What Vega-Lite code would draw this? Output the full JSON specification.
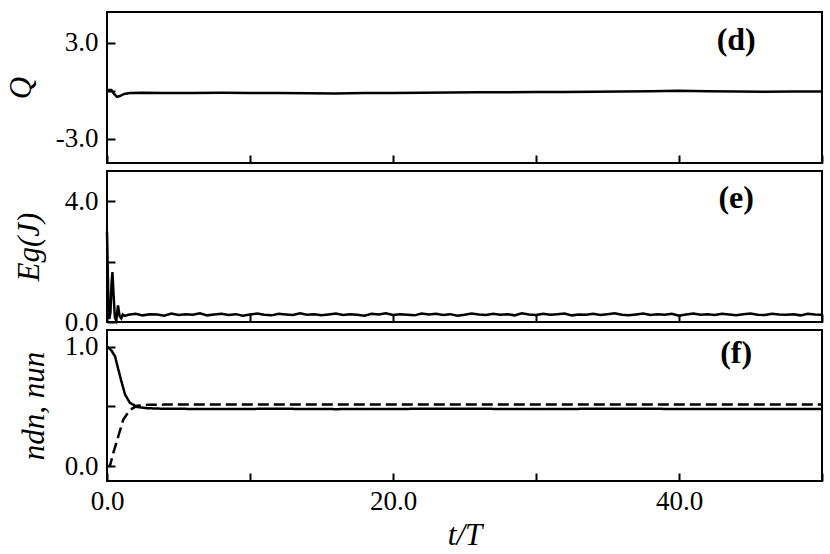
{
  "$schema": "https://vega.github.io/schema/vega-lite/v6.json",
  "padding": {"left": 4, "top": 11, "right": 8, "bottom": 0},
  "background": "white",
  "spacing": 8,
  "bounds": "flush",
  "config": {
    "view": {"stroke": "black", "strokeWidth": 2},
    "axis": {
      "domain": false, "grid": false, "ticks": true, "tickSize": -8, "tickWidth": 2, "tickColor": "black",
      "labelFont": "Liberation Serif", "labelFontSize": 27, "labelColor": "black", "labelPadding": 17, "labelFlush": false,
      "titleFont": "Liberation Serif", "titleFontStyle": "italic", "titleFontWeight": "normal", "titleFontSize": 31, "titleColor": "black"
    }
  },
  "datasets": {
    "Q": [
      {"t": 0, "Q": 0.05}, {"t": 0.3, "Q": 0.05}, {"t": 0.5, "Q": -0.2}, {"t": 0.7, "Q": -0.38}, {"t": 0.9, "Q": -0.33},
      {"t": 1.2, "Q": -0.2}, {"t": 1.6, "Q": -0.15}, {"t": 2.5, "Q": -0.13}, {"t": 4, "Q": -0.15}, {"t": 6, "Q": -0.14},
      {"t": 8, "Q": -0.13}, {"t": 10, "Q": -0.15}, {"t": 12, "Q": -0.14}, {"t": 14, "Q": -0.16}, {"t": 16, "Q": -0.17},
      {"t": 18, "Q": -0.15}, {"t": 20, "Q": -0.14}, {"t": 22, "Q": -0.13}, {"t": 24, "Q": -0.11}, {"t": 26, "Q": -0.1},
      {"t": 28, "Q": -0.09}, {"t": 30, "Q": -0.08}, {"t": 32, "Q": -0.08}, {"t": 34, "Q": -0.07}, {"t": 36, "Q": -0.05},
      {"t": 38, "Q": -0.03}, {"t": 40, "Q": 0.0}, {"t": 42, "Q": -0.03}, {"t": 44, "Q": -0.05}, {"t": 46, "Q": -0.06},
      {"t": 48, "Q": -0.05}, {"t": 50, "Q": -0.05}
    ],
    "Eg": [
      {"t": 0, "E": 3.0}, {"t": 0.04, "E": 2.0}, {"t": 0.1, "E": 0.6}, {"t": 0.16, "E": 0.1}, {"t": 0.24, "E": 0.3},
      {"t": 0.32, "E": 1.3}, {"t": 0.38, "E": 1.65}, {"t": 0.46, "E": 0.9}, {"t": 0.55, "E": 0.15}, {"t": 0.65, "E": 0.05},
      {"t": 0.77, "E": 0.55}, {"t": 0.88, "E": 0.2}, {"t": 1.0, "E": 0.12}, {"t": 1.1, "E": 0.25}, {"t": 1.25, "E": 0.2},
      {"t": 1.5, "E": 0.24}, {"t": 2, "E": 0.27}, {"t": 2.5, "E": 0.22}, {"t": 3, "E": 0.26}, {"t": 3.5, "E": 0.25},
      {"t": 4, "E": 0.21}, {"t": 4.5, "E": 0.28}, {"t": 5, "E": 0.23}, {"t": 5.5, "E": 0.26}, {"t": 6, "E": 0.24},
      {"t": 6.5, "E": 0.29}, {"t": 7, "E": 0.22}, {"t": 7.5, "E": 0.25}, {"t": 8, "E": 0.27}, {"t": 8.5, "E": 0.23},
      {"t": 9, "E": 0.26}, {"t": 9.5, "E": 0.21}, {"t": 10, "E": 0.25}, {"t": 10.5, "E": 0.28}, {"t": 11, "E": 0.24},
      {"t": 11.5, "E": 0.22}, {"t": 12, "E": 0.27}, {"t": 12.5, "E": 0.25}, {"t": 13, "E": 0.23}, {"t": 13.5, "E": 0.29},
      {"t": 14, "E": 0.24}, {"t": 14.5, "E": 0.26}, {"t": 15, "E": 0.22}, {"t": 15.5, "E": 0.25}, {"t": 16, "E": 0.28},
      {"t": 16.5, "E": 0.23}, {"t": 17, "E": 0.26}, {"t": 17.5, "E": 0.24}, {"t": 18, "E": 0.21}, {"t": 18.5, "E": 0.27},
      {"t": 19, "E": 0.25}, {"t": 19.5, "E": 0.29}, {"t": 20, "E": 0.23}, {"t": 20.5, "E": 0.26}, {"t": 21, "E": 0.24},
      {"t": 21.5, "E": 0.22}, {"t": 22, "E": 0.28}, {"t": 22.5, "E": 0.25}, {"t": 23, "E": 0.27}, {"t": 23.5, "E": 0.23},
      {"t": 24, "E": 0.26}, {"t": 24.5, "E": 0.21}, {"t": 25, "E": 0.24}, {"t": 25.5, "E": 0.28}, {"t": 26, "E": 0.25},
      {"t": 26.5, "E": 0.23}, {"t": 27, "E": 0.27}, {"t": 27.5, "E": 0.24}, {"t": 28, "E": 0.26}, {"t": 28.5, "E": 0.22},
      {"t": 29, "E": 0.29}, {"t": 29.5, "E": 0.25}, {"t": 30, "E": 0.23}, {"t": 30.5, "E": 0.27}, {"t": 31, "E": 0.24},
      {"t": 31.5, "E": 0.26}, {"t": 32, "E": 0.28}, {"t": 32.5, "E": 0.22}, {"t": 33, "E": 0.25}, {"t": 33.5, "E": 0.24},
      {"t": 34, "E": 0.27}, {"t": 34.5, "E": 0.23}, {"t": 35, "E": 0.26}, {"t": 35.5, "E": 0.29}, {"t": 36, "E": 0.24},
      {"t": 36.5, "E": 0.22}, {"t": 37, "E": 0.25}, {"t": 37.5, "E": 0.28}, {"t": 38, "E": 0.23}, {"t": 38.5, "E": 0.26},
      {"t": 39, "E": 0.24}, {"t": 39.5, "E": 0.27}, {"t": 40, "E": 0.21}, {"t": 40.5, "E": 0.25}, {"t": 41, "E": 0.28},
      {"t": 41.5, "E": 0.24}, {"t": 42, "E": 0.26}, {"t": 42.5, "E": 0.23}, {"t": 43, "E": 0.27}, {"t": 43.5, "E": 0.25},
      {"t": 44, "E": 0.22}, {"t": 44.5, "E": 0.26}, {"t": 45, "E": 0.28}, {"t": 45.5, "E": 0.24}, {"t": 46, "E": 0.23},
      {"t": 46.5, "E": 0.27}, {"t": 47, "E": 0.25}, {"t": 47.5, "E": 0.24}, {"t": 48, "E": 0.26}, {"t": 48.5, "E": 0.22},
      {"t": 49, "E": 0.27}, {"t": 49.5, "E": 0.25}, {"t": 50, "E": 0.24}
    ],
    "N": [
      {"t": 0, "n": 1.0, "s": "dn"}, {"t": 0.3, "n": 0.97, "s": "dn"}, {"t": 0.56, "n": 0.92, "s": "dn"}, {"t": 0.79, "n": 0.81, "s": "dn"},
      {"t": 1.03, "n": 0.7, "s": "dn"}, {"t": 1.26, "n": 0.6, "s": "dn"}, {"t": 1.6, "n": 0.53, "s": "dn"}, {"t": 2.1, "n": 0.495, "s": "dn"},
      {"t": 2.8, "n": 0.485, "s": "dn"}, {"t": 4, "n": 0.48, "s": "dn"}, {"t": 8, "n": 0.478, "s": "dn"}, {"t": 12, "n": 0.48, "s": "dn"},
      {"t": 16, "n": 0.477, "s": "dn"}, {"t": 20, "n": 0.479, "s": "dn"}, {"t": 25, "n": 0.48, "s": "dn"}, {"t": 30, "n": 0.478, "s": "dn"},
      {"t": 35, "n": 0.48, "s": "dn"}, {"t": 40, "n": 0.479, "s": "dn"}, {"t": 45, "n": 0.478, "s": "dn"}, {"t": 50, "n": 0.478, "s": "dn"},
      {"t": 0, "n": 0.0, "s": "un"}, {"t": 0.2, "n": 0.0, "s": "un"}, {"t": 0.44, "n": 0.11, "s": "un"}, {"t": 0.79, "n": 0.25, "s": "un"},
      {"t": 1.14, "n": 0.39, "s": "un"}, {"t": 1.6, "n": 0.47, "s": "un"}, {"t": 2.1, "n": 0.505, "s": "un"}, {"t": 2.8, "n": 0.513, "s": "un"},
      {"t": 4, "n": 0.515, "s": "un"}, {"t": 10, "n": 0.515, "s": "un"}, {"t": 20, "n": 0.516, "s": "un"}, {"t": 30, "n": 0.515, "s": "un"},
      {"t": 40, "n": 0.515, "s": "un"}, {"t": 50, "n": 0.515, "s": "un"}
    ]
  },
  "vconcat": [
    {
      "width": 715, "height": 151,
      "layer": [
        {
          "data": {"name": "Q"},
          "mark": {"type": "line", "color": "black", "strokeWidth": 2.5},
          "encoding": {
            "x": {"field": "t", "type": "quantitative", "scale": {"domain": [0, 50], "nice": false, "zero": false},
                  "axis": {"values": [0, 10, 20, 30, 40, 50], "labels": false, "title": null}},
            "y": {"field": "Q", "type": "quantitative", "scale": {"domain": [-4.5, 4.9], "nice": false, "zero": false},
                  "axis": {"values": [-3, 0, 3], "labelExpr": "datum.value == 3 ? '3.0' : datum.value == -3 ? '-3.0' : ''", "title": "Q", "titleX": -86, "titleBaseline": "middle"}}
          }
        },
        {
          "data": {"values": [{}]},
          "mark": {"type": "text", "text": "(d)", "font": "Liberation Serif", "fontWeight": "bold", "fontSize": 32, "align": "center", "baseline": "middle", "color": "black"},
          "encoding": {"x": {"datum": 44}, "y": {"datum": 3.15}}
        }
      ]
    },
    {
      "width": 715, "height": 151,
      "layer": [
        {
          "data": {"name": "Eg"},
          "mark": {"type": "line", "color": "black", "strokeWidth": 2.5},
          "encoding": {
            "x": {"field": "t", "type": "quantitative", "scale": {"domain": [0, 50], "nice": false, "zero": false},
                  "axis": {"values": [0, 10, 20, 30, 40, 50], "labels": false, "title": null}},
            "y": {"field": "E", "type": "quantitative", "scale": {"domain": [0, 5], "nice": false, "zero": false},
                  "axis": {"values": [0, 2, 4], "labelExpr": "datum.value == 4 ? '4.0' : datum.value == 0 ? '0.0' : ''", "title": "Eg(J)", "titleX": -78, "titleBaseline": "middle"}}
          }
        },
        {
          "data": {"values": [{}]},
          "mark": {"type": "text", "text": "(e)", "font": "Liberation Serif", "fontWeight": "bold", "fontSize": 32, "align": "center", "baseline": "middle", "color": "black"},
          "encoding": {"x": {"datum": 44}, "y": {"datum": 4.12}}
        }
      ]
    },
    {
      "width": 715, "height": 151,
      "layer": [
        {
          "data": {"name": "N"},
          "mark": {"type": "line", "color": "black", "strokeWidth": 2.5},
          "encoding": {
            "x": {"field": "t", "type": "quantitative", "scale": {"domain": [0, 50], "nice": false, "zero": false},
                  "axis": {"values": [0, 10, 20, 30, 40, 50], "labelExpr": "datum.value % 20 == 0 && datum.value < 50 ? format(datum.value, '.1f') : ''", "title": "t/T", "labelPadding": 15, "titlePadding": 6}},
            "y": {"field": "n", "type": "quantitative", "scale": {"domain": [-0.125, 1.14], "nice": false, "zero": false},
                  "axis": {"values": [0, 0.5, 1], "labelExpr": "datum.value == 1 ? '1.0' : datum.value == 0 ? '0.0' : ''", "title": "ndn, nun", "titleX": -73, "titleBaseline": "middle"}},
            "strokeDash": {"field": "s", "type": "nominal", "scale": {"domain": ["dn", "un"], "range": [[1, 0], [11, 5]]}, "legend": null},
            "detail": {"field": "s"}
          }
        },
        {
          "data": {"values": [{}]},
          "mark": {"type": "text", "text": "(f)", "font": "Liberation Serif", "fontWeight": "bold", "fontSize": 32, "align": "center", "baseline": "middle", "color": "black"},
          "encoding": {"x": {"datum": 44}, "y": {"datum": 0.95}}
        }
      ]
    }
  ]
}
